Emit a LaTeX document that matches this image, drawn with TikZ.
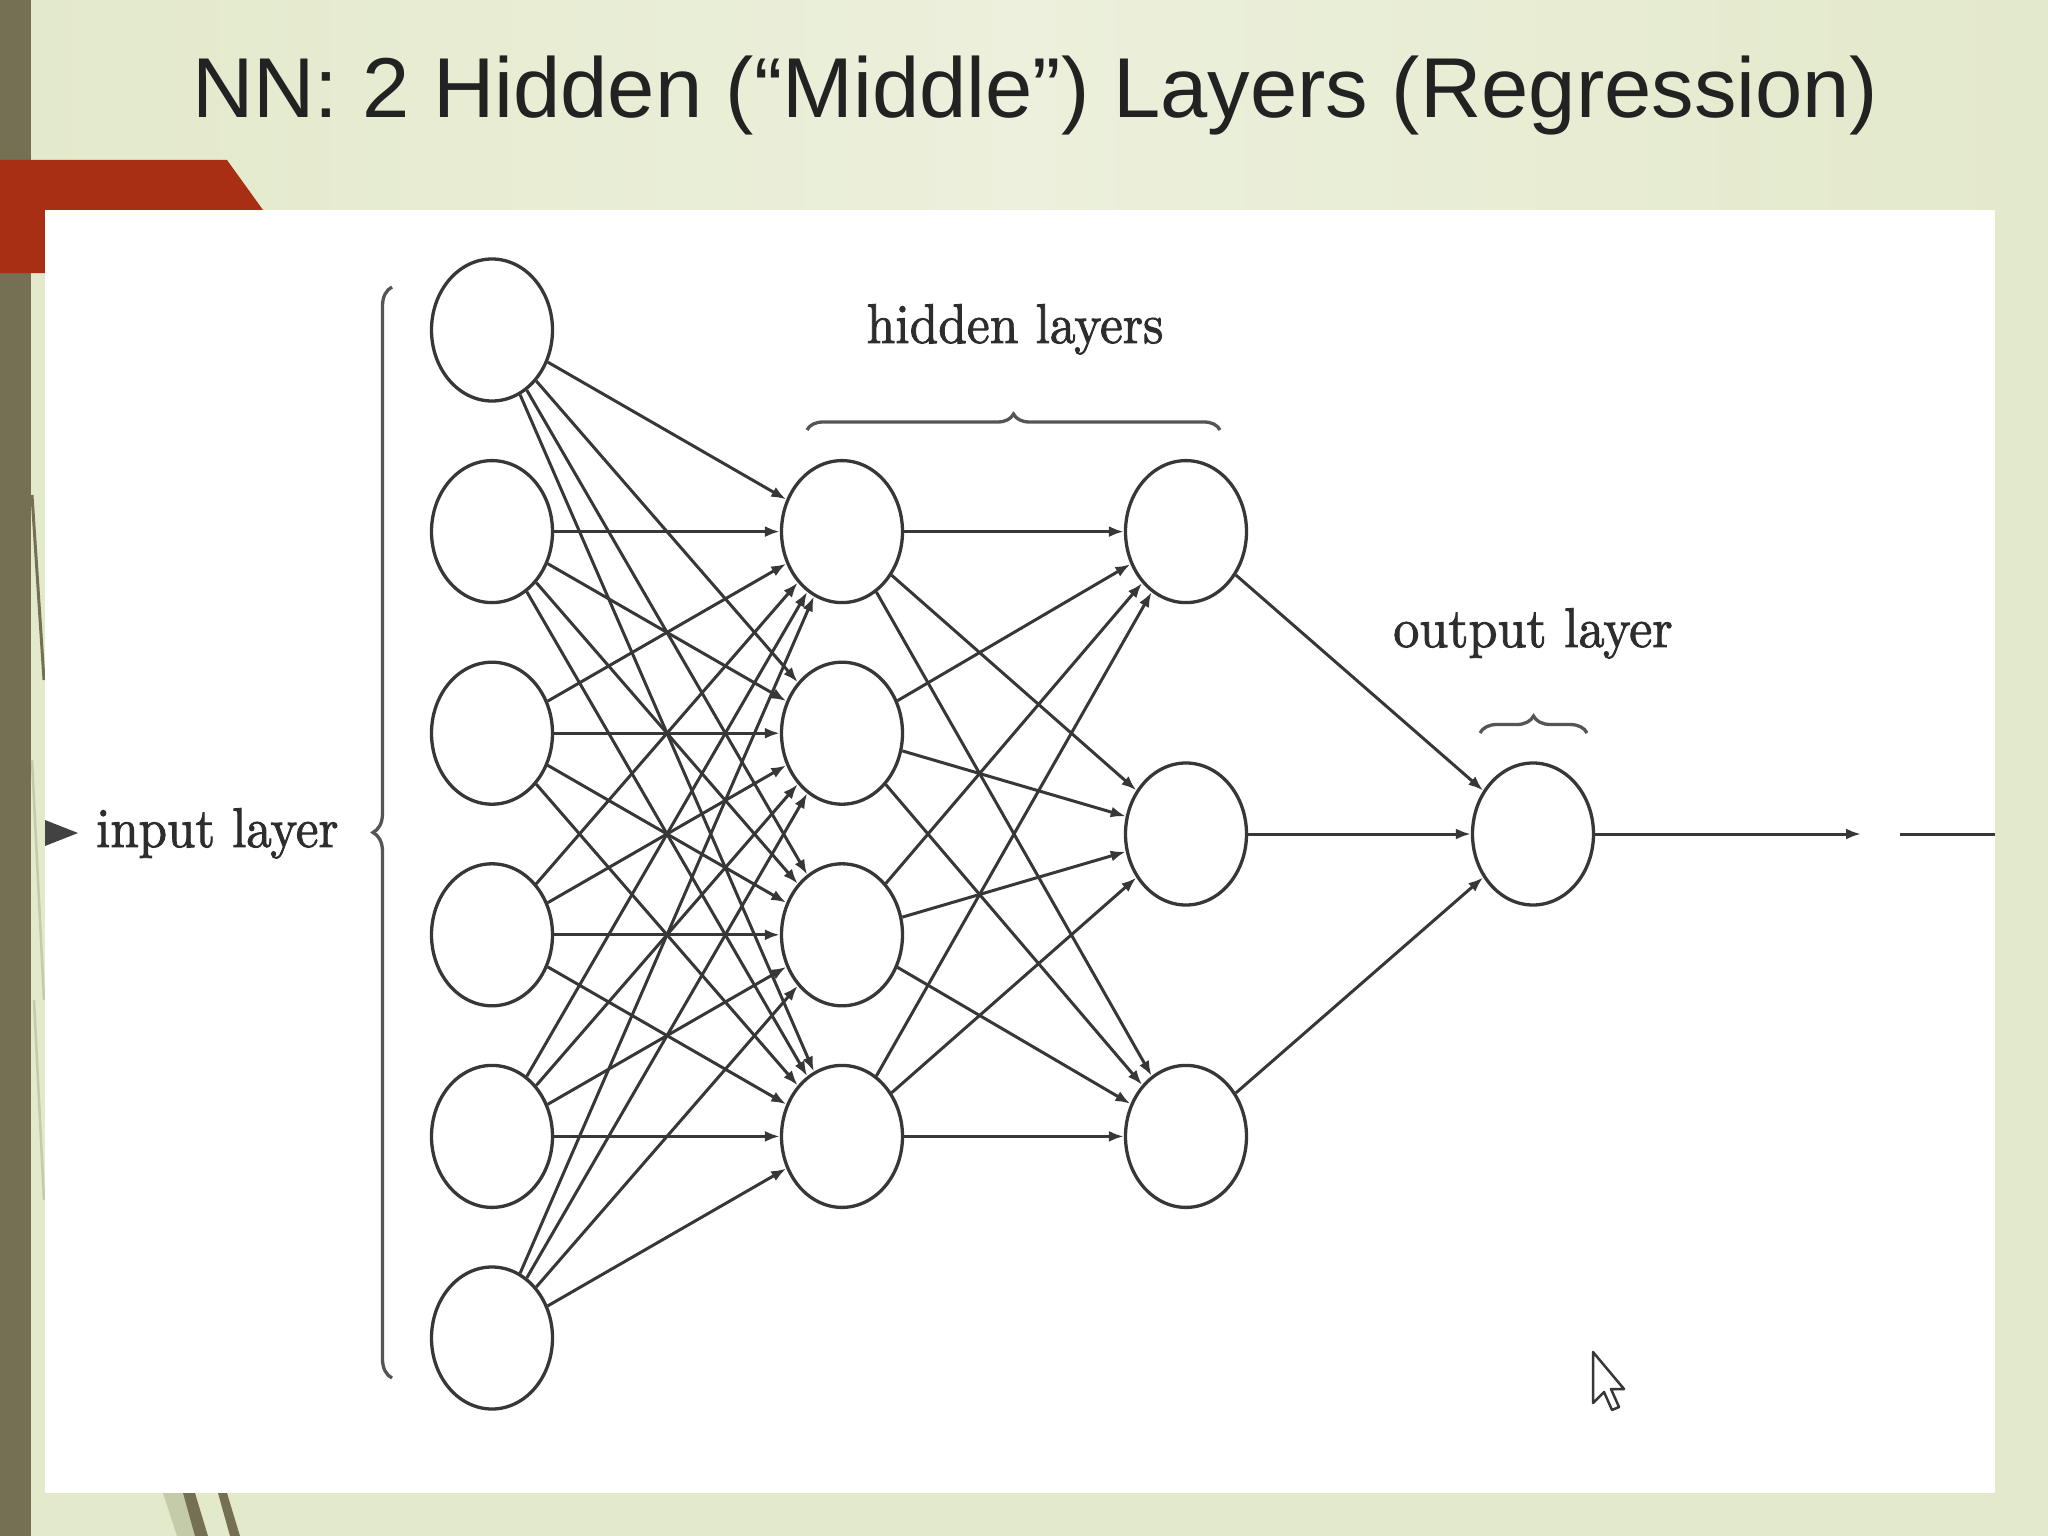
\documentclass[tikz,border=0pt]{standalone}
\usepackage{fontspec}
\newfontfamily\titlefont{Liberation Sans}
\newfontfamily\lblfont{lmroman10-regular.otf}[FakeBold=1.6]
\usetikzlibrary{shapes.geometric,arrows.meta,decorations.pathreplacing}
\definecolor{bggreen}{RGB}{227,233,203}
\definecolor{bglight}{RGB}{236,240,220}
\definecolor{olive}{RGB}{117,111,84}
\definecolor{slidered}{RGB}{168,46,20}
\definecolor{lightstripe}{RGB}{196,203,168}
\definecolor{linegray}{RGB}{55,55,55}
\definecolor{textgray}{RGB}{45,45,45}
\definecolor{bracegray}{RGB}{85,85,85}
\definecolor{titlecol}{RGB}{34,34,34}
\tikzset{
  neuron/.style={draw=linegray, line width=3.3pt, ellipse, minimum width=121pt, minimum height=142pt, inner sep=0pt, fill=white},
  conn/.style={draw=linegray, line width=3pt, -{Latex[length=15pt,width=11pt]}},
  plainline/.style={draw=linegray, line width=3pt},
  lbl/.style={inner sep=0pt, text=textgray, font=\lblfont\fontsize{56}{60}\selectfont},
  bracestyle/.style={draw=bracegray, line width=3.3pt, decorate, decoration={brace, amplitude=#1}},
}
\begin{document}
\begin{tikzpicture}[x=1pt,y=-1pt]
\useasboundingbox (0,0) rectangle (2048,1536);
% slide background
\fill[bggreen] (0,0) rectangle (2048,1536);
\shade[left color=bggreen, right color=bggreen, middle color=bglight] (0,0) rectangle (2048,210);
\fill[olive] (0,0) rectangle (31,1536);
\fill[slidered] (0,160) -- (227,160) -- (263,210) -- (45,210) -- (45,273) -- (0,273) -- cycle;
\draw[olive, line width=3pt] (32,495) -- (44,680);
\draw[lightstripe, line width=2.5pt] (32,760) -- (44,1000);
\draw[lightstripe, line width=2.5pt] (34,1000) -- (44,1200);
% bottom stripes
\fill[lightstripe] (163,1493) -- (183,1493) -- (197,1536) -- (177,1536) -- cycle;
\fill[olive] (183,1493) -- (195,1493) -- (208,1536) -- (195,1536) -- cycle;
\fill[olive] (218,1493) -- (227,1493) -- (240,1536) -- (230,1536) -- cycle;
% white picture area
\fill[white] (45,210) rectangle (1995,1493);
% title
\node[anchor=base west, inner sep=0pt, text=titlecol, font=\titlefont\fontsize{85}{100}\selectfont] (title) at (192,118) {NN: 2 Hidden (“Middle”) Layers (Regression)};
% neurons
\foreach \i/\y in {1/330,2/531.6,3/733.2,4/934.8,5/1136.4,6/1338}
  \node[neuron] (i\i) at (492,\y) {};
\foreach \i/\y in {1/531.6,2/733.2,3/934.8,4/1136.4}
  \node[neuron] (h\i) at (842,\y) {};
\foreach \i/\y in {1/531.6,2/834,3/1136.4}
  \node[neuron] (g\i) at (1186,\y) {};
\node[neuron] (o) at (1533,834) {};
% connections
\foreach \a in {1,...,6}
  \foreach \b in {1,...,4}
    \draw[conn] (i\a) -- (h\b);
\foreach \a in {1,...,4}
  \foreach \b in {1,...,3}
    \draw[conn] (h\a) -- (g\b);
\foreach \a in {1,...,3}
  \draw[conn] (g\a) -- (o);
\coordinate (oend) at (1861,834);
\draw[conn] (o) -- (oend);
\coordinate (rs) at (1900,834);
\coordinate (re) at (1995,834);
\draw[plainline] (rs) -- (re);
% braces
\coordinate (ib1) at (392,1378);
\coordinate (ib2) at (392,287);
\draw[bracestyle=19] (ib1) -- (ib2);
\coordinate (hb1) at (807,430);
\coordinate (hb2) at (1220,430);
\draw[bracestyle=16] (hb1) -- (hb2);
\coordinate (ob1) at (1480,733);
\coordinate (ob2) at (1587,733);
\draw[bracestyle=17] (ob1) -- (ob2);
% labels
\fill[textgray!90] (45,820) -- (78,833) -- (45,846) -- cycle;
\node[lbl, anchor=base west] (inlbl) at (96,847) {\scalebox{0.91}[1]{input layer}};
\node[lbl, anchor=base] (hidlbl) at (1015,343) {\scalebox{0.92}[1]{hidden layers}};
\node[lbl, anchor=base] (outlbl) at (1533,647) {\scalebox{0.93}[1]{output layer}};
% mouse cursor
\filldraw[fill=white, draw=linegray, line width=2.5pt, line join=round] (1593,1352) -- (1593,1403) -- (1604,1392) -- (1612,1410) -- (1619,1407) -- (1611,1389) -- (1624,1389) -- cycle;
\end{tikzpicture}
\end{document}
